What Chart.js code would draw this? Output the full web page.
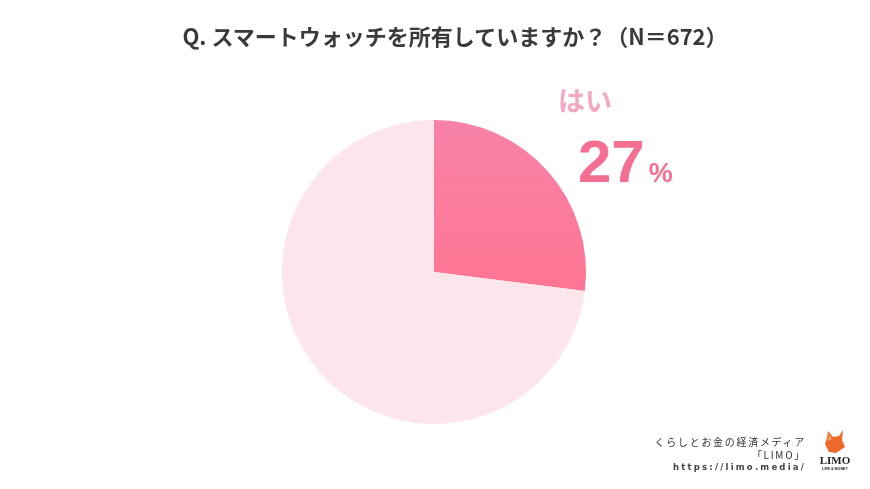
<!DOCTYPE html>
<html>
<head>
<meta charset="utf-8">
<script src="https://cdn.jsdelivr.net/npm/chart.js@4"></script>
<style>
  html, body { margin: 0; padding: 0; background: #fff; }
  #wrap { position: relative; width: 870px; height: 489px; overflow: hidden; }
  #title { position: absolute; left: 0; top: 19px; width: 910px; text-align: center;
    font: bold 22px "Noto Sans CJK JP", sans-serif; color: #3a3a3a; }
  .foot { position: absolute; right: 64px; text-align: right; color: #333;
    font-family: "Noto Sans CJK JP", sans-serif; font-size: 10px; line-height: 12px; }
  #logo { position: absolute; left: 814px; top: 428px; width: 44px; height: 46px; }
</style>
</head>
<body>
<div id="wrap">
  <canvas id="pie" width="870" height="489"></canvas>
  <div id="title">Q. スマートウォッチを所有していますか？（N＝672）</div>
  <div class="foot" style="top:436px; letter-spacing:1.7px;">くらしとお金の経済メディア</div>
  <div class="foot" style="top:449px; letter-spacing:1.7px;">「LIMO」</div>
  <div class="foot" style="top:461px; letter-spacing:2.2px; font-family:'DejaVu Sans', sans-serif; font-size:8.5px; font-weight:bold; color:#444;">https://limo.media/</div>
  <svg id="logo" viewBox="0 0 44 46">
    <polygon points="14,3 19,9 25,8 29,2 28,12 31,19 22,25 15,24 11,16 13,10" fill="#ef6a2a"/>
    <polygon points="15,6 18,11 14,13" fill="#f9a46a"/>
    <text x="21" y="36" text-anchor="middle" font-family="Liberation Serif, serif" font-weight="bold" font-size="11" fill="#222">LIMO</text>
    <text x="21" y="42" text-anchor="middle" font-family="Liberation Sans, sans-serif" font-weight="bold" font-size="3.6" fill="#222">LIFE &amp; MONEY</text>
  </svg>
</div>
<script>
// answer categories and share (%)
const answers = ['はい', 'いいえ'];
const shares = [27, 73];

const sliceLabel = {
  id: 'sliceLabel',
  afterDraw(chart) {
    const ctx = chart.ctx;
    ctx.save();
    ctx.textBaseline = 'alphabetic';
    ctx.fillStyle = '#f2a8c1';
    ctx.font = 'bold 27px "Noto Sans CJK JP", sans-serif';
    ctx.fillText(answers[0], 558, 111);
    ctx.fillStyle = '#f56f93';
    ctx.font = 'bold 60px "Liberation Sans", Arial, sans-serif';
    ctx.fillText(String(shares[0]), 578, 182);
    const w = ctx.measureText(String(shares[0])).width;
    ctx.font = 'bold 27px "Liberation Sans", Arial, sans-serif';
    ctx.fillText('%', 578 + w + 4, 182);
    ctx.restore();
  }
};

new Chart(document.getElementById('pie'), {
  type: 'pie',
  data: {
    labels: answers,
    datasets: [{
      data: shares,
      backgroundColor: (c) => {
        if (c.dataIndex !== 0) return '#fde5ec';
        const area = c.chart.chartArea;
        if (!area) return '#fb7b9d';
        const g = c.chart.ctx.createLinearGradient(0, area.top, 0, area.top + area.height / 2 + 20);
        g.addColorStop(0, '#f882a8');
        g.addColorStop(1, '#ff7593');
        return g;
      },
      borderWidth: 0
    }]
  },
  options: {
    responsive: false,
    animation: false,
    layout: { padding: { top: 120, bottom: 65, left: 0, right: 2 } },
    plugins: { legend: { display: false }, tooltip: { enabled: false } }
  },
  plugins: [sliceLabel]
});
</script>
</body>
</html>
